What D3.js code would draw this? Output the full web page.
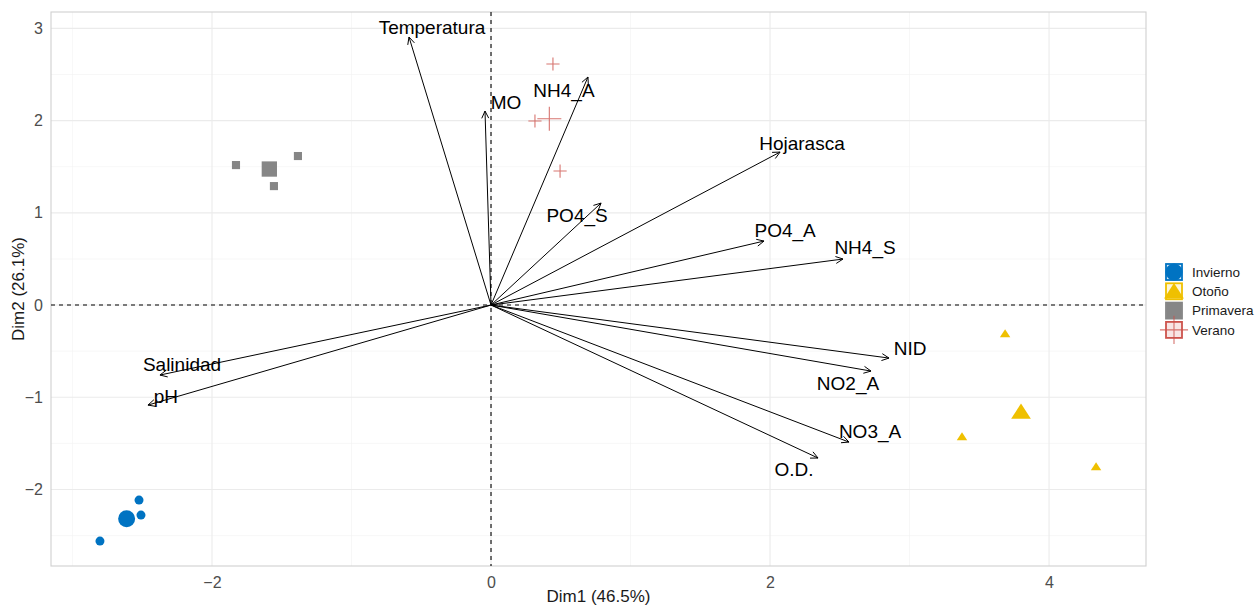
<!DOCTYPE html>
<html><head><meta charset="utf-8">
<script src="https://cdn.jsdelivr.net/npm/d3@7"></script>
<style>body{margin:0;background:#fff;font-family:"Liberation Sans",Arial,sans-serif}</style>
</head><body><svg id="c" width="1256" height="605"></svg>
<script>
const groups = ["Invierno","Otoño","Primavera","Verano"];
const groupColors = ["#0073C2","#EFC000","#868686","#CD534C"];
// individuals: [group, dim1, dim2]
const indGroup = ["Invierno","Invierno","Invierno","Otoño","Otoño","Otoño","Primavera","Primavera","Primavera","Verano","Verano","Verano"];
const indX = [-2.523,-2.509,-2.803, 3.685,3.376,4.337, -1.828,-1.556,-1.384, 0.444,0.315,0.495];
const indY = [-2.115,-2.278,-2.560, -0.315,-1.432,-1.757, 1.518,1.290,1.616, 2.614,1.996,1.453];
// group centroids
const cenX = [-2.612, 3.799, -1.589, 0.418];
const cenY = [-2.318, -1.168, 1.475, 2.021];
// variables
const varNames = ["Temperatura","MO","NH4_A","Hojarasca","PO4_S","PO4_A","NH4_S","NID","NO2_A","NO3_A","O.D.","Salinidad","pH"];
const varX = [-0.588,-0.043,0.695,2.072,0.789,1.957,2.523,2.853,2.724,2.566,2.344,-2.373,-2.459];
const varY = [2.907,2.104,2.473,1.659,1.106,0.694,0.499,-0.575,-0.716,-1.486,-1.659,-0.759,-1.085];
const labX = [-0.423,0.108,0.523,2.229,0.617,2.108,2.681,3.004,2.559,2.717,2.172,-2.215,-2.330];
const labY = [3.015,2.202,2.332,1.757,0.976,0.813,0.629,-0.466,-0.846,-1.367,-1.779,-0.640,-0.987];
const xTicks = [-2,0,2,4];
const yTicks = [-2,-1,0,1,2,3];
const xMinor = [-3,-1,1,3];
const yMinor = [-2.5,-1.5,-0.5,0.5,1.5,2.5];

const svg = d3.select("#c");
const L=51,R=1146,T=12,B=566;
const x = d3.scaleLinear().domain([-3.154,4.695]).range([L,R]);
const y = d3.scaleLinear().domain([-2.83,3.178]).range([B,T]);
const col = d3.scaleOrdinal().domain(groups).range(groupColors);

const g = svg.append("g");
// grid
g.selectAll(".xm").data(xMinor).join("line").attr("x1",d=>x(d)).attr("x2",d=>x(d)).attr("y1",T).attr("y2",B).attr("stroke","#f2f2f2").attr("stroke-width",0.6);
g.selectAll(".ym").data(yMinor).join("line").attr("y1",d=>y(d)).attr("y2",d=>y(d)).attr("x1",L).attr("x2",R).attr("stroke","#f2f2f2").attr("stroke-width",0.6);
g.selectAll(".xM").data(xTicks).join("line").attr("x1",d=>x(d)).attr("x2",d=>x(d)).attr("y1",T).attr("y2",B).attr("stroke","#ebebeb").attr("stroke-width",1.1);
g.selectAll(".yM").data(yTicks).join("line").attr("y1",d=>y(d)).attr("y2",d=>y(d)).attr("x1",L).attr("x2",R).attr("stroke","#ebebeb").attr("stroke-width",1.1);
g.append("rect").attr("x",L).attr("y",T).attr("width",R-L).attr("height",B-T).attr("fill","none").attr("stroke","#d0d0d0").attr("stroke-width",1.1);

// axes ticks
const xa = d3.axisBottom(x).tickValues(xTicks).tickSize(0).tickPadding(8).tickFormat(d3.format("d"));
const ya = d3.axisLeft(y).tickValues(yTicks).tickSize(0).tickPadding(8).tickFormat(d3.format("d"));
const gx = svg.append("g").attr("transform",`translate(0,${B})`).call(xa);
const gy = svg.append("g").attr("transform",`translate(${L},0)`).call(ya);
[gx,gy].forEach(a=>{a.select(".domain").remove();a.selectAll("text").attr("fill","#4d4d4d").style("font-size","16px").style("font-family","Liberation Sans, Arial, sans-serif");});
gx.selectAll("text").attr("dy","0.85em");
svg.append("text").attr("x",(L+R)/2).attr("y",602).attr("text-anchor","middle").style("font-size","17px").attr("fill","#1a1a1a").text("Dim1 (46.5%)");
svg.append("text").attr("transform",`translate(24,${(T+B)/2}) rotate(-90)`).attr("text-anchor","middle").style("font-size","17px").attr("fill","#1a1a1a").text("Dim2 (26.1%)");

// dashed reference lines
g.append("line").attr("x1",x(0)).attr("x2",x(0)).attr("y1",T).attr("y2",B).attr("stroke","#000").attr("stroke-dasharray","4,4").attr("stroke-width",1.1);
g.append("line").attr("y1",y(0)).attr("y2",y(0)).attr("x1",L).attr("x2",R).attr("stroke","#000").attr("stroke-dasharray","4,4").attr("stroke-width",1.1);

// shape drawing
function drawShape(sel, grp, cx, cy, s){
  const c = col(grp);
  if(grp==="Invierno"){
    sel.append("circle").attr("cx",cx).attr("cy",cy).attr("r",s*0.5).attr("fill",c);
  } else if(grp==="Otoño"){
    const h=s*0.9;
    sel.append("path").attr("d",`M${cx},${cy-h*0.6}L${cx+s*0.58},${cy+h*0.4}L${cx-s*0.58},${cy+h*0.4}Z`).attr("fill",c);
  } else if(grp==="Primavera"){
    sel.append("rect").attr("x",cx-s*0.45).attr("y",cy-s*0.45).attr("width",s*0.9).attr("height",s*0.9).attr("fill",c);
  } else {
    sel.append("path").attr("d",`M${cx-s*0.6},${cy}H${cx+s*0.6}M${cx},${cy-s*0.6}V${cy+s*0.6}`).attr("stroke",c).attr("stroke-opacity",0.8).attr("stroke-width",1.1).attr("fill","none");
  }
}
const pts = svg.append("g");
indGroup.forEach((grp,i)=>drawShape(pts,grp,x(indX[i]),y(indY[i]),grp==="Verano"?11:9));
groups.forEach((grp,i)=>drawShape(pts,grp,x(cenX[i]),y(cenY[i]),grp==="Verano"?20:17));

// arrows
const ar = svg.append("g");
varNames.forEach((n,i)=>{
  const x0=x(0),y0=y(0),x1=x(varX[i]),y1=y(varY[i]);
  ar.append("line").attr("x1",x0).attr("y1",y0).attr("x2",x1).attr("y2",y1).attr("stroke","#000").attr("stroke-width",1);
  const ang=Math.atan2(y1-y0,x1-x0), len=8, sp=Math.PI/7;
  const p1=[x1-len*Math.cos(ang-sp),y1-len*Math.sin(ang-sp)];
  const p2=[x1-len*Math.cos(ang+sp),y1-len*Math.sin(ang+sp)];
  ar.append("path").attr("d",`M${p1[0]},${p1[1]}L${x1},${y1}L${p2[0]},${p2[1]}`).attr("stroke","#000").attr("fill","none").attr("stroke-width",1);
  ar.append("text").attr("x",x(labX[i])).attr("y",y(labY[i])).attr("text-anchor","middle").attr("dy","0.35em").style("font-size","19px").attr("fill","#000").text(n);
});

// legend
const lg = svg.append("g");
groups.forEach((grp,i)=>{
  const ky=263+i*19.3, kx=1165, ks=18, c=col(grp);
  lg.append("rect").attr("x",kx+1).attr("y",ky+1).attr("width",ks-2).attr("height",ks-2).attr("fill",c).attr("fill-opacity",0.15).attr("stroke",c).attr("stroke-width",1.8);
  drawShape(lg,grp,kx+ks/2,ky+ks/2+(grp==="Otoño"?1:0),grp==="Verano"?ks*1.3:ks*0.95);
  lg.append("text").attr("x",1192).attr("y",ky+ks/2).attr("dy","0.35em").style("font-size","13.5px").attr("fill","#1a1a1a").text(grp);
});
</script></body></html>
